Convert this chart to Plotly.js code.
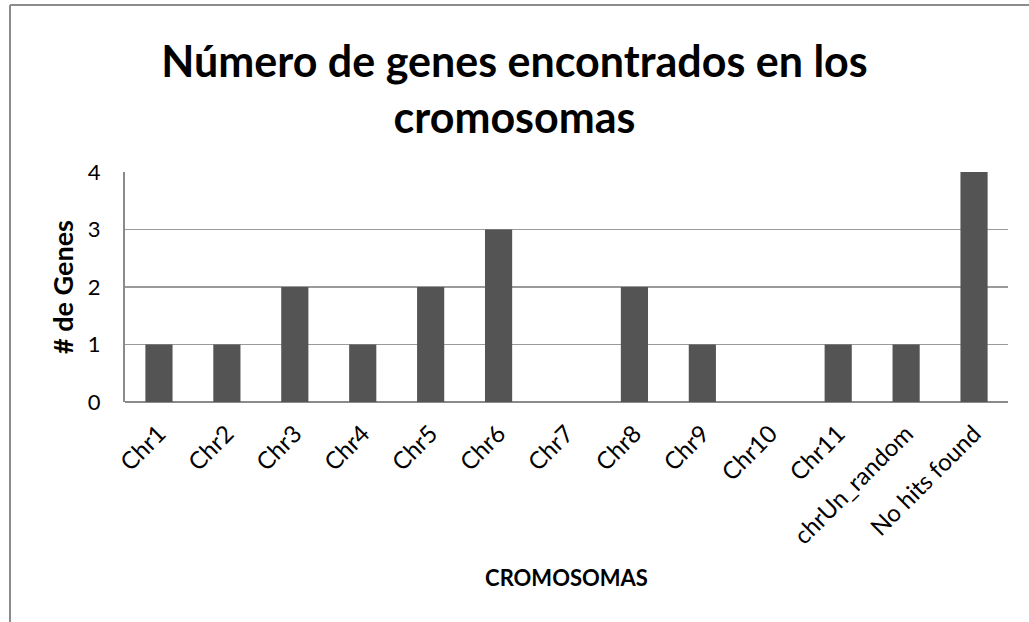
<!DOCTYPE html>
<html>
<head>
<meta charset="utf-8">
<script src="https://cdn.plot.ly/plotly-3.0.1.min.js"></script>
<style>
html,body{margin:0;padding:0;background:#fff;}
#chart{width:1029px;height:622px;}
</style>
</head>
<body>
<div id="chart"></div>
<script>
const categories = ["Chr1","Chr2","Chr3","Chr4","Chr5","Chr6","Chr7","Chr8","Chr9","Chr10","Chr11","chrUn_random","No hits found"];
const geneCounts = [1,1,2,1,2,3,0,2,1,0,1,1,4];
const yTicks = [0,1,2,3,4];

const L = 125, R = 1008, T = 172, B = 402;
const W = 1029, H = 622;
const px = x => (x - L) / (R - L);
const py = y => (B - y) / (B - T);

const trace = {
  type: "bar",
  x: categories,
  y: geneCounts,
  marker: {color: "#545454", line: {width: 0}},
  hoverinfo: "x+y"
};

const layout = {
  width: W, height: H,
  margin: {l: L, r: W - R, t: T, b: H - B, pad: 0},
  paper_bgcolor: "#ffffff",
  plot_bgcolor: "#ffffff",
  bargap: 0.6,
  showlegend: false,
  font: {family: "Lato, 'Open Sans', sans-serif", color: "#000"},
  title: {
    text: "Número de genes encontrados en los<br>cromosomas",
    font: {size: 43, family: "Lato, 'Open Sans', sans-serif", weight: 700, color: "#000"},
    x: 0.5, xref: "container", xanchor: "center",
    y: 1 - 77 / H, yref: "container", yanchor: "middle"
  },
  xaxis: {
    type: "category",
    tickangle: -45,
    tickfont: {size: 24, color: "#000"},
    showgrid: false,
    showline: false,
    ticks: "",
    ticklabelstandoff: 12,
    automargin: false,
    title: {text: "CROMOSOMAS", font: {size: 22, weight: 700, color: "#000"}, standoff: 22}
  },
  yaxis: {
    range: [0, 4],
    tickvals: yTicks,
    ticktext: yTicks.map(String),
    tickfont: {size: 22, color: "#000"},
    showgrid: true,
    gridcolor: "#9a9a9a",
    gridwidth: 1.5,
    zeroline: true,
    zerolinecolor: "#8a8a8a",
    zerolinewidth: 2,
    showline: true,
    linecolor: "#8a8a8a",
    linewidth: 2,
    ticks: "",
    ticklabelstandoff: 18,
    automargin: false,
    title: {text: "# de Genes", font: {size: 27, weight: 700, color: "#000"}, standoff: 6}
  },
  shapes: [
    {type: "line", xref: "paper", yref: "paper", x0: px(10), x1: px(1040), y0: py(5), y1: py(5), line: {color: "#8c8c8c", width: 2}},
    {type: "line", xref: "paper", yref: "paper", x0: px(10), x1: px(10), y0: py(5), y1: py(640), line: {color: "#8c8c8c", width: 2}}
  ]
};

Plotly.newPlot("chart", [trace], layout, {displayModeBar: false, staticPlot: true});
</script>
</body>
</html>
